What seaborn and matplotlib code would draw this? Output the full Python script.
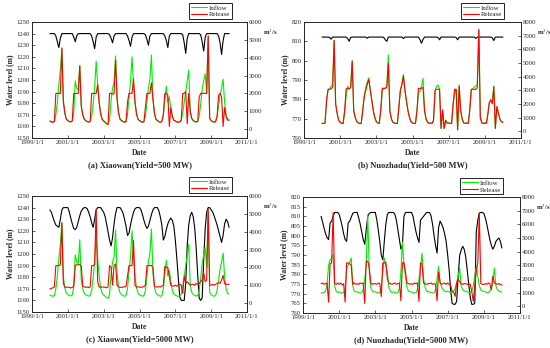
import pandas as pd
import matplotlib
matplotlib.use('Agg')
import matplotlib.pyplot as plt
import seaborn as sns

# -------------------------
# Monthly series, 2000/1 .. 2010/1 (one row per year, last value = 2010/1)
# -------------------------
start_month = '2000-01-01'

# Xiaowan inflow (m3/s), same for (a) and (c)
xw_inflow = [
    450, 400, 380, 420, 800, 1500, 2500, 3300, 4500, 1500, 850, 550,
    480, 420, 400, 450, 900, 2700, 2300, 2200, 3550, 1300, 800, 560,
    470, 420, 390, 420, 700, 1400, 2300, 3800, 2500, 1500, 850, 560,
    450, 380, 300, 260, 500, 1600, 2300, 2600, 4100, 1700, 900, 560,
    470, 420, 380, 420, 800, 1800, 2600, 4050, 2500, 1500, 850, 560,
    470, 420, 380, 420, 700, 1500, 2300, 2800, 4150, 1700, 900, 560,
    470, 420, 380, 420, 800, 1600, 2400, 1500, 1800, 1200, 700, 500,
    450, 400, 380, 400, 500, 900, 1500, 2100, 2700, 3300, 1000, 600,
    480, 420, 400, 420, 700, 1400, 2200, 2700, 3100, 2000, 5200, 600,
    470, 420, 380, 420, 700, 1300, 1900, 2300, 2800, 1500, 800, 550,
    500,
]

# (a) Xiaowan, Yield=500 MW
xw_release_a = [
    450, 400, 380, 420, 2000, 2000, 2000, 2000, 4550, 1600, 900, 550,
    480, 420, 400, 450, 2000, 2000, 2000, 2000, 3550, 1300, 800, 560,
    470, 420, 390, 420, 2000, 2000, 2000, 2000, 2500, 1500, 850, 560,
    450, 380, 300, 260, 2000, 2000, 1950, 2000, 3850, 1700, 900, 560,
    470, 420, 380, 420, 1500, 2000, 2000, 2000, 2800, 1500, 850, 560,
    470, 420, 380, 420, 1200, 2000, 2000, 2000, 2600, 1700, 900, 560,
    470, 420, 380, 420, 800, 2000, 2000, 1900, 150, 1200, 700, 500,
    450, 400, 380, 400, 500, 2000, 2000, 2100, 300, 2000, 1000, 600,
    480, 420, 400, 420, 1800, 2000, 2000, 2000, 2000, 2000, 5220, 600,
    470, 420, 380, 420, 700, 1900, 2000, 1800, 150, 1200, 700, 500,
    500,
]
xw_level_a = [
    1240, 1240, 1240, 1240, 1238, 1233, 1228, 1236, 1240, 1240, 1240, 1240,
    1240, 1240, 1240, 1240, 1237, 1233, 1238, 1240, 1240, 1240, 1240, 1240,
    1240, 1240, 1240, 1240, 1238, 1233, 1227, 1237, 1240, 1240, 1240, 1240,
    1240, 1240, 1240, 1240, 1239, 1236, 1232, 1238, 1240, 1240, 1240, 1240,
    1240, 1240, 1240, 1240, 1238, 1234, 1229, 1237, 1240, 1240, 1240, 1240,
    1240, 1240, 1240, 1240, 1239, 1235, 1230, 1238, 1240, 1240, 1240, 1240,
    1240, 1240, 1240, 1240, 1240, 1238, 1234, 1228, 1238, 1240, 1240, 1240,
    1240, 1240, 1240, 1240, 1240, 1239, 1232, 1223, 1236, 1240, 1240, 1240,
    1240, 1240, 1240, 1240, 1240, 1239, 1233, 1225, 1237, 1240, 1240, 1240,
    1240, 1240, 1240, 1240, 1240, 1238, 1232, 1222, 1234, 1240, 1240, 1240,
    1240,
]

# (b) Nuozhadu, Yield=500 MW
nzd_inflow_b = [
    570, 560, 600, 2200, 3000, 3100, 3300, 3400, 6650, 2000, 1300, 800,
    650, 580, 560, 1400, 2600, 3300, 3100, 3200, 5150, 1500, 1000, 700,
    600, 570, 560, 1500, 2600, 3200, 3600, 3900, 3000, 2280, 1500, 1000,
    700, 600, 570, 1500, 3000, 3140, 3140, 3300, 5600, 1500, 900, 650,
    600, 570, 560, 1800, 3000, 3500, 4150, 3000, 2200, 1500, 1000, 700,
    600, 570, 560, 1500, 2800, 2900, 3300, 3880, 1500, 900, 650, 580,
    600, 570, 800, 2900, 3300, 3380, 3070, 200, 1550, 200, 800, 600,
    600, 570, 560, 2000, 2700, 3070, 100, 3390, 1500, 900, 600, 570,
    600, 570, 1500, 3000, 3100, 3250, 3300, 3400, 7440, 1000, 600, 570,
    600, 570, 1200, 2100, 2300, 2100, 3300, 200, 1800, 1300, 900, 690,
    650,
]
nzd_release_b = [
    570, 560, 600, 2280, 3070, 3070, 3100, 3200, 6650, 2000, 1300, 800,
    650, 580, 560, 1500, 3100, 3140, 3100, 3200, 5150, 1500, 1000, 700,
    600, 570, 560, 1500, 2500, 3000, 3400, 3800, 3000, 2280, 1500, 1000,
    700, 600, 570, 1600, 3140, 3140, 3140, 3200, 4980, 1500, 900, 650,
    600, 570, 560, 1800, 3000, 3400, 4050, 3000, 2200, 1500, 1000, 700,
    600, 570, 560, 1500, 3140, 3140, 3140, 3200, 1500, 900, 650, 580,
    600, 570, 800, 3000, 3070, 3070, 3070, 200, 1550, 200, 800, 600,
    600, 570, 560, 2000, 3070, 3070, 100, 3300, 1500, 900, 600, 570,
    600, 570, 1500, 3070, 3070, 3070, 3070, 3200, 7440, 1000, 600, 570,
    600, 570, 1200, 2100, 2300, 2000, 3260, 200, 1800, 1300, 900, 690,
    650,
]
nzd_level_b = [
    812.2, 812.2, 812.2, 812.2, 812.2, 812.0, 811.1, 812.2, 812.2, 812.2, 812.2, 812.2,
    812.2, 812.2, 812.2, 812.2, 812.2, 811.5, 810.0, 812.0, 812.2, 812.2, 812.2, 812.2,
    812.2, 812.2, 812.2, 812.2, 812.2, 812.2, 811.6, 812.2, 812.2, 812.2, 812.2, 812.2,
    812.2, 812.2, 812.2, 812.2, 812.2, 812.0, 810.8, 810.0, 812.2, 812.2, 812.2, 812.2,
    812.2, 812.2, 812.2, 812.2, 812.2, 812.2, 811.4, 812.2, 812.2, 812.2, 812.2, 812.2,
    812.2, 812.2, 812.2, 812.2, 812.2, 810.8, 809.0, 811.0, 812.2, 812.2, 812.2, 812.2,
    812.2, 812.2, 812.2, 812.2, 812.2, 812.0, 810.8, 812.2, 812.2, 812.2, 812.2, 812.2,
    812.2, 812.2, 812.2, 812.2, 812.2, 812.0, 810.8, 812.2, 812.2, 812.2, 812.2, 812.2,
    812.2, 812.2, 812.2, 812.2, 812.2, 812.2, 811.5, 812.2, 812.2, 812.2, 812.2, 812.2,
    812.2, 812.2, 812.2, 812.2, 812.2, 811.8, 810.4, 812.2, 812.2, 812.2, 812.2, 812.2,
    812.2,
]

# (c) Xiaowan, Yield=5000 MW
xw_release_c = [
    800, 820, 860, 900, 2100, 2100, 2100, 2150, 4500, 1100, 900, 880,
    900, 870, 850, 880, 950, 2100, 2150, 2150, 2150, 2100, 950, 900,
    880, 900, 870, 900, 2100, 2100, 2150, 5250, 1200, 900, 880, 900,
    900, 880, 860, 900, 2100, 2000, 1000, 2100, 2200, 1000, 900, 880,
    880, 900, 900, 950, 1500, 2100, 2100, 2100, 3500, 1000, 900, 900,
    900, 880, 900, 920, 1000, 2100, 2100, 2100, 2100, 2000, 950, 900,
    900, 920, 900, 950, 1000, 2050, 2000, 2000, 1500, 1000, 950, 950,
    1000, 950, 1000, 1050, 1000, 550, 1500, 1100, 1200, 1100, 1000, 1050,
    1050, 1000, 1100, 1050, 1100, 1200, 1300, 1700, 1200, 1300, 5250, 1000,
    1000, 1050, 1000, 1050, 1100, 1150, 1100, 1300, 1550, 1100, 1050, 1050,
    1050,
]
xw_level_c = [
    1238, 1236, 1232, 1228, 1225, 1224, 1223, 1230, 1238, 1240, 1240, 1240,
    1240, 1236, 1231, 1226, 1222, 1221, 1223, 1228, 1233, 1237, 1239, 1240,
    1240, 1239, 1236, 1232, 1227, 1223, 1230, 1238, 1240, 1240, 1240, 1238,
    1236, 1232, 1226, 1219, 1212, 1207, 1214, 1226, 1235, 1240, 1240, 1240,
    1238, 1235, 1230, 1224, 1216, 1218, 1225, 1231, 1236, 1239, 1240, 1240,
    1240, 1238, 1234, 1229, 1225, 1222, 1224, 1229, 1234, 1238, 1240, 1240,
    1240, 1237, 1232, 1225, 1212, 1215, 1221, 1226, 1229, 1231, 1229, 1224,
    1212, 1196, 1180, 1163, 1160, 1160, 1160, 1175, 1208, 1225, 1233, 1236,
    1232, 1222, 1205, 1182, 1162, 1160, 1162, 1195, 1222, 1236, 1240, 1240,
    1238, 1236, 1233, 1229, 1225, 1220, 1215, 1210, 1216, 1226, 1230, 1228,
    1223,
]

# (d) Nuozhadu, Yield=5000 MW
nzd_inflow_d = [
    960, 980, 1000, 1100, 1600, 3000, 3400, 3500, 3800, 1500, 1100, 1000,
    1050, 1000, 950, 1000, 1300, 2800, 3000, 3200, 3530, 1500, 1100, 1050,
    1050, 1000, 950, 1000, 1200, 2000, 3000, 6700, 2500, 1400, 1100, 1050,
    1050, 1000, 950, 1000, 1300, 2500, 3530, 3000, 2500, 1400, 1100, 1000,
    1050, 1000, 950, 1000, 1300, 2500, 4700, 3000, 2200, 1400, 1100, 1050,
    1050, 1000, 950, 1000, 1200, 2000, 2800, 3890, 2000, 1400, 1100, 1050,
    1050, 1000, 950, 1000, 1200, 2000, 2910, 1800, 1400, 1200, 1100, 1050,
    1100, 1050, 1000, 1000, 1100, 1300, 1700, 2200, 2800, 1500, 1200, 1100,
    1100, 1050, 1000, 1000, 1100, 1500, 2200, 2900, 2200, 1500, 1200, 1100,
    1100, 1050, 1000, 1000, 1100, 1300, 1700, 2800, 1500, 1200, 1100, 1050,
    1050,
]
nzd_release_d = [
    1650, 1700, 1600, 1650, 1700, 300, 3100, 3170, 6870, 1650, 1600, 1700,
    1600, 1700, 1550, 1650, 300, 3170, 3170, 3100, 3000, 1600, 1700, 1600,
    1650, 1600, 1700, 1650, 1700, 200, 3300, 3300, 2800, 1700, 1600, 1650,
    1650, 1600, 1700, 1650, 700, 3170, 3170, 3200, 2000, 1700, 1650, 1600,
    1650, 1700, 1600, 1650, 1700, 400, 3170, 3200, 2500, 1700, 1650, 1600,
    1650, 1600, 1700, 1650, 1700, 350, 3170, 3100, 1700, 1650, 1600, 1650,
    1650, 1700, 1600, 1650, 1600, 400, 2500, 1700, 1600, 1650, 1700, 1600,
    1700, 1600, 1550, 1100, 1050, 720, 1700, 2000, 1800, 1650, 1600, 1650,
    1650, 1600, 1650, 1600, 1100, 350, 1500, 2500, 3200, 6830, 1650, 1600,
    1600, 1650, 1600, 1700, 1650, 1200, 2200, 1700, 1650, 1600, 1650, 1600,
    1550,
]
nzd_level_d = [
    810, 807, 804, 801, 799, 798, 806.6, 807.5, 810, 812, 812, 812,
    811, 808, 805, 801, 798, 797, 806.6, 807.5, 809.5, 811.5, 812, 812,
    812, 809, 806, 802, 798, 795.5, 803, 810, 811.5, 812, 812, 812,
    812, 808, 803, 797, 790, 787.5, 797, 806, 811, 812, 812, 812,
    812, 811, 808, 803, 798, 793, 795, 810, 812, 812, 812, 812,
    812, 810, 806, 802, 799, 796.5, 808, 809, 810, 811, 812, 812,
    812, 810, 806, 800, 795, 791, 804, 807.5, 806, 804, 801, 797,
    790, 782, 772, 765, 764.5, 764.5, 766, 779, 790, 792.5, 794.5, 793,
    789, 782, 775, 768, 764.5, 764.5, 765, 802, 808, 811.7, 812, 812,
    811.5, 809, 806, 802, 798, 795, 793, 794.5, 797, 798, 798.8, 797,
    793.6,
]

captions = ['(a) Xiaowan(Yield=500 MW)', '(b) Nuozhadu(Yield=500 MW)',
            '(c) Xiaowan(Yield=5000 MW)', '(d) Nuozhadu(Yield=5000 MW)']
xtick_labels = ['1999/1/1', '2001/1/1', '2003/1/1', '2005/1/1',
                '2007/1/1', '2009/1/1', '2011/1/1']

# -------------------------
# Plot
# -------------------------
sns.set_style('ticks')
plt.rcParams['font.family'] = ['Liberation Serif', 'DejaVu Serif']
plt.rcParams['mathtext.fontset'] = 'stix'
plt.rcParams['axes.linewidth'] = 0.6

dates = pd.date_range(start_month, periods=len(xw_inflow), freq='MS')
xticks = pd.to_datetime(['%s-01-01' % s.split('/')[0] for s in xtick_labels])

W, H = 550, 348
panels = [
    # axes box in pixels (left, top, right, bottom), level, inflow, release,
    # left lim/ticks, right lim/ticks
    ((32, 22, 247, 138), xw_level_a, xw_inflow, xw_release_a,
     (1150, 1250), range(1150, 1251, 10), (-500, 6000), range(0, 6001, 1000)),
    ((304, 22, 521, 138), nzd_level_b, nzd_inflow_b, nzd_release_b,
     (760, 820), range(760, 821, 10), (-500, 8000), range(0, 8001, 1000)),
    ((32, 196, 247, 312), xw_level_c, xw_inflow, xw_release_c,
     (1150, 1250), range(1150, 1251, 10), (-500, 6000), range(0, 6001, 1000)),
    ((303, 197, 520, 313), nzd_level_d, nzd_inflow_d, nzd_release_d,
     (760, 820), range(760, 821, 5), (-500, 8000), range(0, 8001, 1000)),
]

fig = plt.figure(figsize=(W / 100, H / 100), dpi=100)
fs = 4.8

for i, (box, level, inflow, release, ylim, yt, y2lim, y2t) in enumerate(panels):
    x0, y0, x1, y1 = box
    ax = fig.add_axes([x0 / W, 1 - y1 / H, (x1 - x0) / W, (y1 - y0) / H])
    sns.lineplot(x=dates, y=level, ax=ax, color='black', lw=0.8)
    ax.set_xlim(pd.Timestamp('1999-01-01'), pd.Timestamp('2011-01-01'))
    ax.set_ylim(*ylim)
    ax.set_yticks(list(yt))
    ax.set_xticks(xticks)
    ax.set_xticklabels(xtick_labels)
    ax.tick_params(axis='both', direction='in', length=2, width=0.5,
                   labelsize=fs, pad=1.5)
    ax.set_xlabel('Date', fontsize=5.5, fontweight='bold', labelpad=3)
    ax.set_ylabel('Water level (m)', fontsize=5.5, fontweight='bold', labelpad=2)

    ax2 = ax.twinx()
    sns.lineplot(x=dates, y=inflow, ax=ax2, color='#00ee00', lw=0.8, label='Inflow')
    sns.lineplot(x=dates, y=release, ax=ax2, color='#ff0000', lw=0.8, label='Release')
    ax2.set_ylim(*y2lim)
    ax2.set_yticks(list(y2t))
    ax2.tick_params(axis='y', direction='in', length=2, width=0.5,
                    labelsize=fs, pad=1.2)
    ax2.set_ylabel('')
    fig.text((x1 + 16) / W, 1 - (y0 + 10) / H, 'm$^3$/s', fontsize=4.8,
             fontweight='bold', ha='left', va='center')
    leg = ax2.legend(loc='upper right',
                     bbox_to_anchor=((x0 + 200) / W, 1 - 3 / H),
                     bbox_transform=fig.transFigure, fontsize=5,
                     frameon=True, fancybox=False, edgecolor='black',
                     framealpha=1, borderpad=0.25, handlelength=2.3,
                     handletextpad=0.3, labelspacing=0.15, borderaxespad=0)
    leg.get_frame().set_linewidth(0.6)
    if i >= 2:
        leg.set_bbox_to_anchor(((x0 + 200) / W, 1 - (y0 - 19) / H),
                               transform=fig.transFigure)

    cx = (x0 + x1) / 2 / W
    cy = 1 - (y1 + 27) / H
    fig.text(cx, cy, captions[i], ha='center', va='center', fontsize=6,
             fontweight='bold')

fig.savefig('out.png', dpi=100)
